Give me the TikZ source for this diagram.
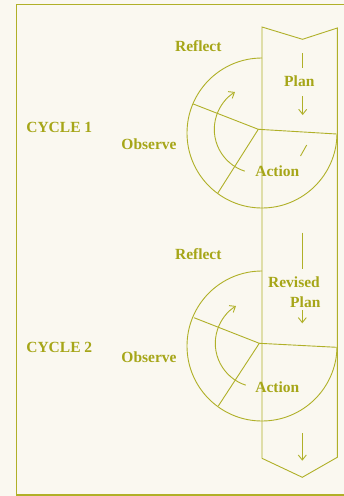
\documentclass[tikz,border=0pt]{standalone}
\usepackage{fontspec}
\setmainfont{Liberation Serif}
\usetikzlibrary{arrows.meta}
\definecolor{paper}{RGB}{250,248,240}
\definecolor{olive}{RGB}{176,176,40}
\definecolor{olivetext}{RGB}{166,166,24}
\tikzset{
  ln/.style={draw=olive, line width=0.9pt},
  tip/.style={ln, -{Straight Barb[length=5pt,width=8pt]}},
  lbl/.style={inner sep=0pt, text=olivetext, font=\bfseries\fontsize{15.5}{18}\selectfont}
}
\begin{document}
\begin{tikzpicture}[x=1pt, y=-1pt]
  % canvas
  \fill[paper] (0,0) rectangle (344,496);
  \useasboundingbox (0,0) rectangle (344,496);

  % open frame (right side runs off the page)
  \coordinate (fTR) at (345,4.3);
  \coordinate (fTL) at (16.7,4.3);
  \coordinate (fBL) at (16.7,495);
  \coordinate (fBR) at (345,495);
  \draw[ln, line width=1.2pt] (fTR) -- (fTL) -- (fBL) -- (fBR);

  % plan band: notched top, chevron bottom
  \coordinate (bTL) at (262,27);
  \coordinate (bTN) at (302.5,39.3);
  \coordinate (bTR) at (337.3,28);
  \coordinate (bBL) at (262,458.3);
  \coordinate (bBN) at (302.3,477.3);
  \coordinate (bBR) at (337.3,457.3);
  \draw[ln] (bBL) -- (bTL) -- (bTN) -- (bTR) -- (bBR) -- (bBN) -- (bBL);

  % ---- cycle 1 ----
  \coordinate (c1top) at (262,58);
  \draw[ln] (c1top) arc[start angle=270, end angle=1, radius=75];
  \coordinate (h1) at (258.3,129.3);
  \coordinate (h1a) at (193.3,104);
  \coordinate (h1b) at (217.7,193.3);
  \coordinate (h1c) at (336.7,134);
  \draw[ln] (h1a) -- (h1) -- (h1b);
  \draw[ln] (h1) -- (h1c);
  \draw[tip] ([shift={(108:44)}]h1) arc[start angle=108, end angle=238, radius=44];
  \coordinate (p1a) at (302.7,53.3);
  \coordinate (p1b) at (302.7,67.7);
  \coordinate (p1c) at (302.7,96);
  \coordinate (p1d) at (302.7,115);
  \draw[ln] (p1a) -- (p1b);
  \draw[tip] (p1c) -- (p1d);
  \coordinate (d1a) at (306.7,145);
  \coordinate (d1b) at (300.5,156);
  \draw[ln] (d1a) -- (d1b);

  \node[lbl] (reflect1) at (198.3,45.7) {Reflect};
  \node[lbl] (plan1) at (299.3,81) {Plan};
  \node[lbl] (cycle1) at (59.3,127.3) {CYCLE 1};
  \node[lbl] (observe1) at (149,144) {Observe};
  \node[lbl] (action1) at (277.3,171) {Action};

  % ---- cycle 2 ----
  \coordinate (c2top) at (262,271);
  \draw[ln] (c2top) arc[start angle=270, end angle=1, radius=75];
  \coordinate (h2) at (259.3,343.3);
  \coordinate (h2a) at (194,317.7);
  \coordinate (h2b) at (218.3,406);
  \coordinate (h2c) at (336.7,347.3);
  \draw[ln] (h2a) -- (h2) -- (h2b);
  \draw[ln] (h2) -- (h2c);
  \draw[tip] ([shift={(108:44)}]h2) arc[start angle=108, end angle=238, radius=44];
  \coordinate (p2a) at (302.3,232.7);
  \coordinate (p2b) at (302.3,269.3);
  \coordinate (p2c) at (302.3,310);
  \coordinate (p2d) at (302.3,323.3);
  \coordinate (p2e) at (302.3,433.3);
  \coordinate (p2f) at (302.3,460.7);
  \draw[ln] (p2a) -- (p2b);
  \draw[tip] (p2c) -- (p2d);
  \draw[tip] (p2e) -- (p2f);

  \node[lbl] (reflect2) at (198.3,254.3) {Reflect};
  \node[lbl] (revised2) at (294,281.7) {Revised};
  \node[lbl] (plan2) at (305.3,301.7) {Plan};
  \node[lbl] (cycle2) at (59.3,347.3) {CYCLE 2};
  \node[lbl] (observe2) at (149,356.7) {Observe};
  \node[lbl] (action2) at (277.3,386.7) {Action};
\end{tikzpicture}
\end{document}
